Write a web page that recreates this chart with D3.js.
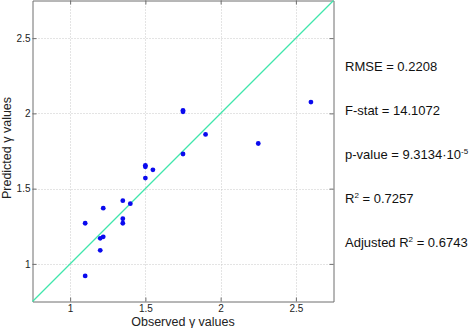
<!DOCTYPE html>
<html lang="en">
<head>
    <meta charset="UTF-8">
    <title>Observed vs predicted</title>
    <style>
        body { margin: 0; background: #fff; }
        text { font-family: "Liberation Sans", Arial, sans-serif; }
    </style>
</head>
<body>
<script type='text/javascript' src='https://d3js.org/d3.v7.min.js'></script>
<script>
    // observed / predicted gamma values
    const observed  = [1.10, 1.20, 1.22, 1.20, 1.35, 1.35, 1.10, 1.22, 1.40, 1.35, 1.50, 1.50, 1.55, 1.50, 1.75, 1.75, 1.75, 1.90, 2.25, 2.60];
    const predicted = [0.92, 1.09, 1.18, 1.17, 1.27, 1.30, 1.27, 1.37, 1.40, 1.42, 1.57, 1.645, 1.625, 1.655, 1.73, 2.01, 2.02, 1.86, 1.80, 2.075];
    const tickValues = [1, 1.5, 2, 2.5];
    const stats = [
        {label: "RMSE = 0.2208"},
        {label: "F-stat = 14.1072"},
        {label: "p-value = 9.3134\u00b710", sup: "-5"},
        {label: "R", sup: "2", rest: " = 0.7257"},
        {label: "Adjusted R", sup: "2", rest: " = 0.6743"}
    ];

    const width = 473, height = 328;
    const mLeft = 32.5, mTop = 0.5, plotW = 301, plotH = 301;

    const svg = d3.select("body").append("svg")
        .attr("width", width)
        .attr("height", height);

    const x = d3.scaleLinear().domain([0.75, 2.75]).range([mLeft, mLeft + plotW]);
    const y = d3.scaleLinear().domain([0.75, 2.75]).range([mTop + plotH, mTop]);

    // dotted grid
    svg.append("g").selectAll("line")
        .data(tickValues).enter().append("line")
        .attr("x1", d => Math.round(x(d)) + 0.5).attr("x2", d => Math.round(x(d)) + 0.5)
        .attr("y1", mTop).attr("y2", mTop + plotH)
        .attr("stroke", "#c8c8c8").attr("stroke-dasharray", "1,2");
    svg.append("g").selectAll("line")
        .data(tickValues).enter().append("line")
        .attr("y1", d => Math.round(y(d)) + 0.5).attr("y2", d => Math.round(y(d)) + 0.5)
        .attr("x1", mLeft).attr("x2", mLeft + plotW)
        .attr("stroke", "#c8c8c8").attr("stroke-dasharray", "1,2");

    // axes, ticks inward
    const ax = svg.append("g").attr("color", "#6e6e6e").attr("font-size", 12);
    ax.append("g").attr("transform", `translate(0,${mTop + plotH})`)
        .call(d3.axisBottom(x).tickValues(tickValues).tickFormat(d3.format("")).tickSizeInner(-4).tickSizeOuter(0).tickPadding(3));
    ax.append("g").attr("transform", `translate(0,${mTop})`)
        .call(d3.axisTop(x).tickValues(tickValues).tickFormat("").tickSizeInner(-4).tickSizeOuter(0));
    ax.append("g").attr("transform", `translate(${mLeft},0)`)
        .call(d3.axisLeft(y).tickValues(tickValues).tickFormat(d3.format("")).tickSizeInner(-4).tickSizeOuter(0).tickPadding(2));
    ax.append("g").attr("transform", `translate(${mLeft + plotW},0)`)
        .call(d3.axisRight(y).tickValues(tickValues).tickFormat("").tickSizeInner(-4).tickSizeOuter(0));
    ax.selectAll(".tick text").attr("fill", "#222").attr("font-family", "Liberation Sans, Arial, sans-serif");

    // identity line
    svg.append("line")
        .attr("x1", x(0.75)).attr("y1", y(0.75))
        .attr("x2", x(2.75)).attr("y2", y(2.75))
        .attr("stroke", "#40e6ac").attr("stroke-width", 1.3);

    svg.append("g").selectAll("circle")
        .data(observed).enter().append("circle")
        .attr("cx", (d, i) => x(d))
        .attr("cy", (d, i) => y(predicted[i]))
        .attr("r", 2.4)
        .attr("fill", "#0a0aee");

    // axis titles
    svg.append("text")
        .attr("x", mLeft + plotW / 2).attr("y", 326)
        .attr("text-anchor", "middle").attr("font-size", 12.5).attr("fill", "#222")
        .text("Observed \u03b3 values");
    svg.append("text")
        .attr("transform", `translate(10.5,148) rotate(-90)`)
        .attr("text-anchor", "middle").attr("font-size", 12.5).attr("fill", "#222")
        .text("Predicted \u03b3 values");

    // statistics
    const st = svg.append("g").selectAll("text")
        .data(stats).enter().append("text")
        .attr("x", 345)
        .attr("y", (d, i) => 71 + i * 44)
        .attr("font-size", 13).attr("fill", "#111");
    st.append("tspan").text(d => d.label);
    st.filter(d => d.sup).append("tspan")
        .attr("dy", -5).attr("font-size", 8).text(d => d.sup);
    st.filter(d => d.rest).append("tspan")
        .attr("dy", 5).text(d => d.rest);
</script>
</body>
</html>
